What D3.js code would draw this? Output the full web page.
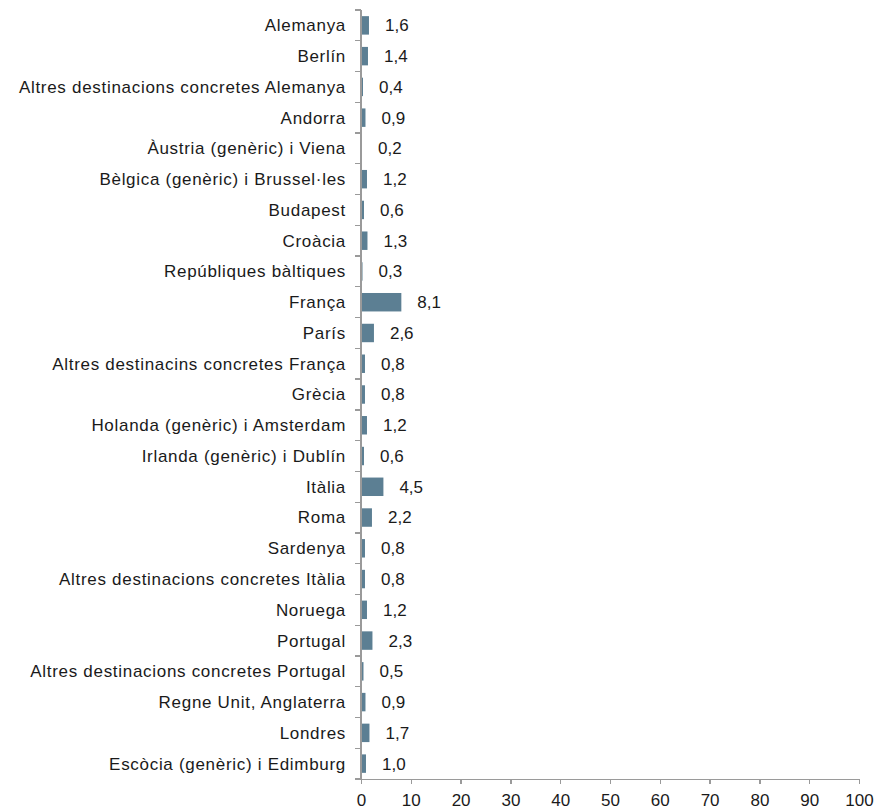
<!DOCTYPE html>
<html>
<head>
<script src="https://cdn.jsdelivr.net/npm/d3@7/dist/d3.min.js"></script>
<style>
  body { margin: 0; background: #fff; }
  svg text { font-family: "Liberation Sans", Arial, sans-serif; fill: #1a1a1a; }
  .axis path, .axis line { fill: none; stroke: #9a9a9a; stroke-width: 1.3; shape-rendering: crispEdges; }
</style>
</head>
<body>
<script>
var categories = [
  "Alemanya", "Berlín", "Altres destinacions concretes Alemanya", "Andorra",
  "Àustria (genèric) i Viena", "Bèlgica (genèric) i Brussel·les", "Budapest",
  "Croàcia", "Repúbliques bàltiques", "França", "París",
  "Altres destinacins concretes França", "Grècia", "Holanda (genèric) i Amsterdam",
  "Irlanda (genèric) i Dublín", "Itàlia", "Roma", "Sardenya",
  "Altres destinacions concretes Itàlia", "Noruega", "Portugal",
  "Altres destinacions concretes Portugal", "Regne Unit, Anglaterra", "Londres",
  "Escòcia (genèric) i Edimburg"
];
var values = [1.6, 1.4, 0.4, 0.9, 0.2, 1.2, 0.6, 1.3, 0.3, 8.1, 2.6, 0.8, 0.8, 1.2,
  0.6, 4.5, 2.2, 0.8, 0.8, 1.2, 2.3, 0.5, 0.9, 1.7, 1.0];
var xTicks = [0, 10, 20, 30, 40, 50, 60, 70, 80, 90, 100];

var width = 877, height = 810;
var mLeft = 361, mRight = 859, mTop = 10, mBottom = 779;

var svg = d3.select("body").append("svg")
  .attr("width", width)
  .attr("height", height);

var x = d3.scaleLinear().domain([0, 100]).range([mLeft, mRight]);
var y = d3.scaleBand().domain(categories).range([mTop, mBottom]).paddingInner(0.4).paddingOuter(0.2);

var data = categories.map(function(c, i) { return { name: c, value: values[i] }; });

// bars
svg.append("g").selectAll("rect")
  .data(data)
  .enter().append("rect")
  .attr("x", x(0))
  .attr("y", function(d) { return y(d.name); })
  .attr("width", function(d) { return x(d.value) - x(0); })
  .attr("height", y.bandwidth())
  .attr("fill", "#5c7f93");

// value labels
var fmt = function(v) { return v.toFixed(1).replace(".", ","); };
svg.append("g").selectAll("text")
  .data(data)
  .enter().append("text")
  .attr("x", function(d) { return x(d.value) + 16; })
  .attr("y", function(d) { return y(d.name) + y.bandwidth() / 2; })
  .attr("dy", "0.35em")
  .style("font-size", "17px")
  .text(function(d) { return fmt(d.value); });

// x axis
var xAxis = d3.axisBottom(x).tickValues(xTicks).tickSize(5).tickSizeOuter(0).tickPadding(10);
var gx = svg.append("g").attr("class", "axis")
  .attr("transform", "translate(0," + mBottom + ")")
  .call(xAxis);
gx.selectAll("text").style("font-size", "17px").attr("fill", "#1a1a1a");

// y axis: ticks on band boundaries
var boundaries = d3.range(categories.length + 1).map(function(i) { return mTop + i * (mBottom - mTop) / categories.length; });
var gy = svg.append("g").attr("class", "axis");
gy.append("line")
  .attr("x1", mLeft).attr("x2", mLeft)
  .attr("y1", mTop).attr("y2", mBottom);
gy.selectAll("line.tick")
  .data(boundaries)
  .enter().append("line")
  .attr("class", "tick")
  .attr("x1", mLeft - 6).attr("x2", mLeft)
  .attr("y1", function(d) { return d; })
  .attr("y2", function(d) { return d; });

svg.append("g").selectAll("text")
  .data(categories)
  .enter().append("text")
  .attr("x", mLeft - 15)
  .attr("y", function(d) { return y(d) + y.bandwidth() / 2; })
  .attr("dy", "0.35em")
  .attr("text-anchor", "end")
  .style("font-size", "17px")
  .style("letter-spacing", "0.7px")
  .text(function(d) { return d; });
</script>
</body>
</html>
